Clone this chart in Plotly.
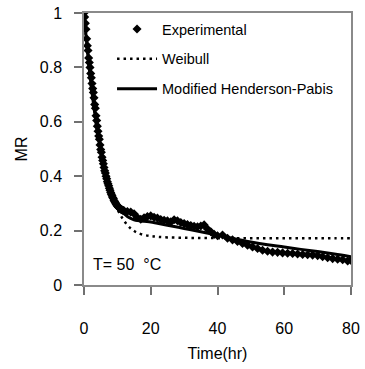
import plotly.graph_objects as go

# Experimental data
exp_t = [0.0, 0.2, 0.4, 0.6, 0.8, 1.0, 1.2, 1.4, 1.6, 1.8, 2.0, 2.2, 2.4, 2.6, 2.8, 3.0,
         3.2, 3.4, 3.6, 3.8, 4.0, 4.2, 4.4, 4.6, 4.8, 5.0, 5.2, 5.4, 5.6, 5.8, 6.0, 6.2,
         6.4, 6.6, 6.8, 7.0, 7.2, 7.4, 7.6, 7.8, 8.0, 8.2, 8.4, 8.6, 8.8, 9.0, 9.2, 9.4,
         9.6, 9.8, 10.0, 10.2, 10.4, 10.6, 10.8, 11.0, 11.2, 11.4, 11.6, 11.8, 12.0,
         13, 14, 15, 16, 17, 18, 19, 20, 21, 22, 23, 24, 25, 26, 27, 28, 29, 30, 31, 32,
         33, 34, 35, 36, 37, 38, 39, 40,
         41.5, 43, 44.5, 46, 47.5, 49, 50.5, 52, 53.5, 55, 56.5, 58, 59.5, 61, 62.5, 64,
         65.5, 67, 68.5, 70, 71.5, 73, 74.5, 76, 77.5, 79, 80]
exp_mr = [1.000, 0.985, 0.962, 0.940, 0.905, 0.880, 0.862, 0.835, 0.818, 0.800, 0.778,
          0.762, 0.741, 0.722, 0.708, 0.688, 0.664, 0.650, 0.622, 0.605, 0.584, 0.565,
          0.548, 0.536, 0.515, 0.498, 0.488, 0.470, 0.458, 0.446, 0.432, 0.420, 0.412,
          0.400, 0.391, 0.380, 0.372, 0.365, 0.356, 0.348, 0.340, 0.334, 0.328, 0.322,
          0.318, 0.311, 0.306, 0.302, 0.298, 0.294, 0.290, 0.288, 0.286, 0.283, 0.281,
          0.279, 0.278, 0.276, 0.275, 0.274, 0.273,
          0.270, 0.268, 0.262, 0.248, 0.242, 0.247, 0.252, 0.254, 0.249, 0.246, 0.241,
          0.238, 0.236, 0.232, 0.240, 0.236, 0.230, 0.226, 0.222, 0.219, 0.216, 0.214,
          0.217, 0.221, 0.206, 0.196, 0.186, 0.181,
          0.184, 0.172, 0.166, 0.160, 0.153, 0.146, 0.140, 0.134, 0.128, 0.124, 0.121,
          0.120, 0.118, 0.117, 0.116, 0.114, 0.112, 0.111, 0.110, 0.108, 0.104, 0.100,
          0.097, 0.095, 0.093, 0.088, 0.090]

# Model curves
model_t = [0, 0.5, 1, 1.5, 2, 3, 4, 5, 6, 7, 8, 9, 10, 11, 12, 13, 14, 15, 16, 18, 20,
           22, 25, 30, 35, 40, 45, 50, 55, 60, 65, 70, 75, 80]
weibull_mr = [1.0, 0.925, 0.86, 0.80, 0.745, 0.645, 0.558, 0.485, 0.422, 0.374, 0.336,
              0.304, 0.278, 0.256, 0.236, 0.220, 0.208, 0.199, 0.192, 0.184, 0.180,
              0.177, 0.175, 0.1735, 0.1728, 0.1724, 0.172, 0.172, 0.172, 0.172, 0.172,
              0.172, 0.172, 0.172]
mhp_mr = [1.0, 0.93, 0.865, 0.805, 0.75, 0.652, 0.568, 0.497, 0.437, 0.388, 0.348, 0.317,
          0.293, 0.275, 0.262, 0.252, 0.245, 0.240, 0.237, 0.234, 0.232, 0.227, 0.220,
          0.208, 0.196, 0.183, 0.170, 0.158, 0.148, 0.140, 0.131, 0.123, 0.114, 0.104]

x_ticks = [0, 20, 40, 60, 80]
y_ticks = [0, 0.2, 0.4, 0.6, 0.8, 1]
y_tick_labels = ["0", "0.2", "0.4", "0.6", "0.8", "1"]

FONT = "Liberation Sans, Arial, sans-serif"
AXC = "#8a8a8a"
TICKC = "#707070"

fig = go.Figure()
fig.add_trace(go.Scatter(x=exp_t, y=exp_mr, mode="markers", name="Experimental",
                         marker=dict(symbol="diamond", size=7, color="black"),
                         legendgroup="a"))
fig.add_trace(go.Scatter(x=model_t, y=weibull_mr, mode="lines", name="Weibull",
                         line=dict(color="black", width=2.5, dash="2.5px,4px", shape="spline"),
                         legendgroup="b"))
fig.add_trace(go.Scatter(x=model_t, y=mhp_mr, mode="lines", name="Modified Henderson-Pabis",
                         line=dict(color="black", width=3, shape="spline"),
                         legendgroup="c"))

fig.add_annotation(x=2.0, y=0.075, xref="x", yref="y", text="T= 50\u00a0 °C",
                   showarrow=False, xanchor="left", yanchor="middle",
                   font=dict(family=FONT, size=16, color="black"))

fig.update_layout(
    width=365, height=369,
    margin=dict(l=84, r=14, t=13, b=84, autoexpand=False),
    paper_bgcolor="white", plot_bgcolor="white",
    font=dict(family=FONT, size=16, color="black"),
    showlegend=True,
    legend=dict(x=0.105, y=1.0, xanchor="left", yanchor="top",
                bgcolor="rgba(0,0,0,0)", font=dict(size=14.5),
                tracegroupgap=8, itemwidth=40),
    xaxis=dict(range=[0, 80], tickvals=x_ticks, showgrid=False, zeroline=False,
               showline=True, linecolor=AXC, linewidth=1.5, mirror=True,
               ticks="outside", ticklen=8, tickcolor=TICKC, tickwidth=2,
               ticklabelstandoff=20, automargin=False,
               title=dict(text="Time(hr)", font=dict(size=16), standoff=12)),
    yaxis=dict(range=[0, 1], tickvals=y_ticks, ticktext=y_tick_labels, showgrid=False,
               zeroline=False, showline=True, linecolor=AXC, linewidth=1.5, mirror=True,
               ticks="outside", ticklen=8, tickcolor=TICKC, tickwidth=2, automargin=False,
               ticklabelstandoff=9,
               title=dict(text="MR", font=dict(size=16), standoff=8)),
)

fig.write_html("out.html")
